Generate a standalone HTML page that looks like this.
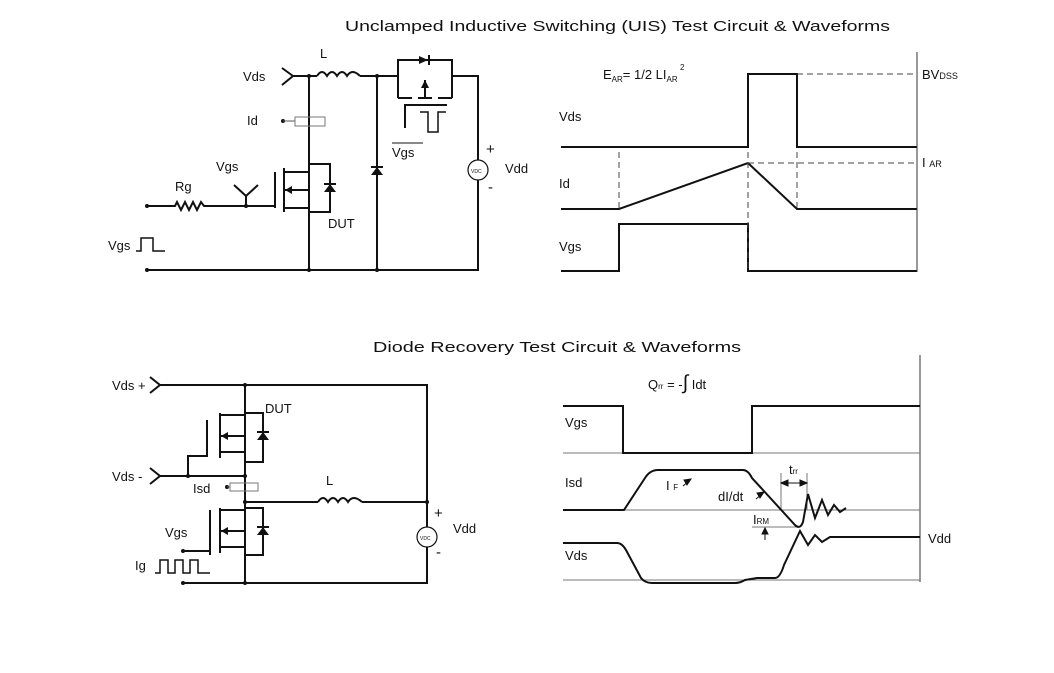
<!DOCTYPE html>
<html><head><meta charset="utf-8"><style>body{margin:0;background:#fff}svg{display:block}text{font-family:"Liberation Sans",Arial,sans-serif;fill:#111}</style></head><body>
<svg width="1054" height="673" viewBox="0 0 1054 673" xmlns="http://www.w3.org/2000/svg">
<g font-size="15">
<text x="345" y="31" textLength="545" lengthAdjust="spacingAndGlyphs">Unclamped Inductive Switching (UIS) Test Circuit &amp; Waveforms</text>
<text x="373" y="352" textLength="368" lengthAdjust="spacingAndGlyphs">Diode Recovery Test Circuit &amp; Waveforms</text>
</g>
<!-- UIS circuit -->
<g stroke="#111" stroke-width="2" fill="none">
<path d="M282 68 L293 76 L282 85"/>
<path d="M293 76 H317 M360 76 H398 M452 76 H478 V160 M478 180 V270 H147"/>
<path d="M317 76 q5 -8 10 0 q5 -8 10 0 q5 -8 10 0 q5 -8 13 0"/>
<path d="M309 76 V270 M377 76 V270"/>
<path d="M398 76 V60 H452 V76"/>
<path d="M398 76 V98 M452 76 V98 M425 98 V80"/>
<path d="M398 98 H412 M418 98 H432 M438 98 H452"/>
<path d="M405 128 V105 H447"/>
<path d="M420 112 H428 V132 H438 V112 H446" stroke-width="1.5"/>
<path d="M309 164 H330 V212 H309 M284 168 V212 M284 172 H309 M284 190 H309 M284 208 H309 M275 172 V208 M246 206 H275"/>
<path d="M246 206 V196 L234 185 M246 196 L258 185"/>
<path d="M147 206 H175 l2 -4 l4 8 l4 -8 l4 8 l4 -8 l4 8 l4 -8 l3 4 H246"/>
<path d="M136 251 H141 V238 H153 V251 H165" stroke-width="1.5"/>
<circle cx="478" cy="170" r="10" stroke-width="1.2"/>
</g>
<g fill="#111">
<polygon points="419,56 419,64 428,60"/><rect x="428" y="55" width="2" height="10"/>
<polygon points="421,88 429,88 425,80"/>
<polygon points="324,192 336,192 330,184"/><rect x="324" y="183" width="12" height="2"/>
<polygon points="371,175 383,175 377,167"/><rect x="371" y="166" width="12" height="2"/>
<polygon points="285,190 292,186 292,194"/>
<circle cx="147" cy="206" r="2"/><circle cx="147" cy="270" r="2"/><circle cx="283" cy="121" r="2"/>
<circle cx="309" cy="76" r="2"/><circle cx="377" cy="76" r="2"/><circle cx="309" cy="270" r="2"/><circle cx="377" cy="270" r="2"/><circle cx="246" cy="206" r="2"/>
</g>
<path d="M283 121 H295" stroke="#555" stroke-width="1"/><rect x="295" y="117" width="30" height="9" fill="none" stroke="#777" stroke-width="1"/>
<g font-size="13">
<text x="243" y="81">Vds</text><text x="320" y="58">L</text><text x="247" y="125">Id</text>
<text x="216" y="171">Vgs</text><text x="175" y="191">Rg</text><text x="328" y="228">DUT</text>
<text x="108" y="250">Vgs</text><text x="392" y="157">Vgs</text>
<text x="505" y="173">Vdd</text><text x="486" y="154" font-size="15">+</text><text x="488" y="192" font-size="15">-</text>
<text x="471" y="173" font-size="5">VDC</text>
</g>
<path d="M392 143 H423" stroke="#111" stroke-width="1"/>
<!-- UIS waveforms -->
<g stroke="#111" stroke-width="2" fill="none">
<path d="M561 147 H748 V74 H797 V147 H917"/>
<path d="M561 209 H619 L748 163 L797 209 H917"/>
<path d="M561 271 H619 V224 H748 V271 H917"/>
</g>
<path d="M917 52 V272" stroke="#333" stroke-width="1"/>
<g stroke="#444" stroke-width="1" stroke-dasharray="6,4" fill="none">
<path d="M797 74 H915 M748 163 H915 M619 152 V209 M748 152 V272 M797 152 V209"/>
</g>
<g font-size="13">
<text x="559" y="121">Vds</text><text x="559" y="188">Id</text><text x="559" y="251">Vgs</text>
<text x="922" y="79">BV<tspan font-size="9">DSS</tspan></text>
<text x="922" y="167">I <tspan font-size="9">AR</tspan></text>
<text x="603" y="79">E<tspan font-size="8" dy="3">AR</tspan><tspan dy="-3">= 1/2 LI</tspan><tspan font-size="8" dy="3">AR</tspan></text>
<text x="680" y="70" font-size="8">2</text>
</g>
<!-- Diode recovery circuit -->
<g stroke="#111" stroke-width="2" fill="none">
<path d="M150 377 L160 385 L150 393 M160 385 H427 V527 M427 547 V583 H183"/>
<path d="M150 468 L160 476 L150 484 M160 476 H245 M188 476 V456 H207 V420"/>
<path d="M245 385 V583"/>
<path d="M245 413 H263 V462 H245 M220 413 V458 M220 415 H245 M220 436 H245 M220 452 H245"/>
<path d="M245 508 H263 V555 H245 M220 508 V553 M220 510 H245 M220 531 H245 M220 547 H245 M210 510 V555 M183 551 H210"/>
<path d="M245 502 H318 M362 502 H427"/>
<path d="M318 502 q5 -8 10 0 q5 -8 10 0 q5 -8 10 0 q5 -8 14 0"/>
<path d="M155 573 H160 V560 H168 V573 H175 V560 H183 V573 H190 V560 H198 V573 H210" stroke-width="1.5"/>
<circle cx="427" cy="537" r="10" stroke-width="1.2"/>
</g>
<g fill="#111">
<polygon points="257,440 269,440 263,432"/><rect x="257" y="431" width="12" height="2"/>
<polygon points="257,535 269,535 263,527"/><rect x="257" y="526" width="12" height="2"/>
<polygon points="221,436 228,432 228,440"/><polygon points="221,531 228,527 228,535"/>
<circle cx="245" cy="385" r="2"/><circle cx="245" cy="476" r="2"/><circle cx="188" cy="476" r="2"/><circle cx="245" cy="502" r="2"/><circle cx="427" cy="502" r="2"/><circle cx="245" cy="583" r="2"/><circle cx="183" cy="583" r="2"/><circle cx="183" cy="551" r="2"/><circle cx="227" cy="487" r="2"/>
</g>
<path d="M227 487 H230" stroke="#555"/><rect x="230" y="483" width="28" height="8" fill="none" stroke="#777"/>
<g font-size="13">
<text x="112" y="390">Vds +</text><text x="112" y="481">Vds -</text><text x="265" y="413">DUT</text>
<text x="193" y="493">Isd</text><text x="326" y="485">L</text><text x="165" y="537">Vgs</text><text x="135" y="570">Ig</text>
<text x="453" y="533">Vdd</text><text x="434" y="518" font-size="15">+</text><text x="436" y="557" font-size="15">-</text>
<text x="420" y="540" font-size="5">VDC</text>
</g>
<!-- Diode waveforms -->
<path d="M920 355 V582" stroke="#333" stroke-width="1"/>
<g stroke="#777" stroke-width="1" fill="none">
<path d="M563 453 H920 M563 510 H920 M563 580 H920 M752 527 H800"/>
<path d="M781 473 V510 M807 473 V510"/>
</g>
<g stroke="#111" stroke-width="2" fill="none">
<path d="M563 406 H623 V453 H752 V406 H920"/>
<path d="M563 510 H624 L645 478 Q650 470 658 470 H743 Q748 470 752 478 L795 525 Q800 530 803 522 L808 494 L815 518 L822 500 L828 515 L834 505 L840 512 L846 508"/>
<path d="M563 543 H617 Q622 543 626 550 L641 578 Q645 583 652 583 H735 Q740 583 745 580 L757 578 H775 Q780 578 784 565 L800 531 L808 545 L815 535 L822 542 L830 537 H920"/>
</g>
<g stroke="#111" stroke-width="1" fill="#111">
<path d="M781 483 H807"/><polygon points="781,483 788,480 788,486"/><polygon points="807,483 800,480 800,486"/>
<path d="M765 540 V528"/><polygon points="765,528 762,534 768,534"/>
<path d="M683 486 L689 481"/><polygon points="691,479 684,480 687,485"/>
<path d="M756 499 L762 494"/><polygon points="764,492 757,493 760,498"/>
</g>
<g font-size="13">
<text x="565" y="427">Vgs</text><text x="565" y="487">Isd</text><text x="565" y="560">Vds</text>
<text x="666" y="490">I <tspan font-size="8">F</tspan></text>
<text x="718" y="501">dI/dt</text>
<text x="753" y="524">I<tspan font-size="8">RM</tspan></text>
<text x="789" y="474">t<tspan font-size="8">rr</tspan></text>
<text x="928" y="543">Vdd</text>
<text x="648" y="389">Q<tspan font-size="8">rr</tspan> = -<tspan font-size="20">∫</tspan> Idt</text>
</g>
</svg>
</body></html>
